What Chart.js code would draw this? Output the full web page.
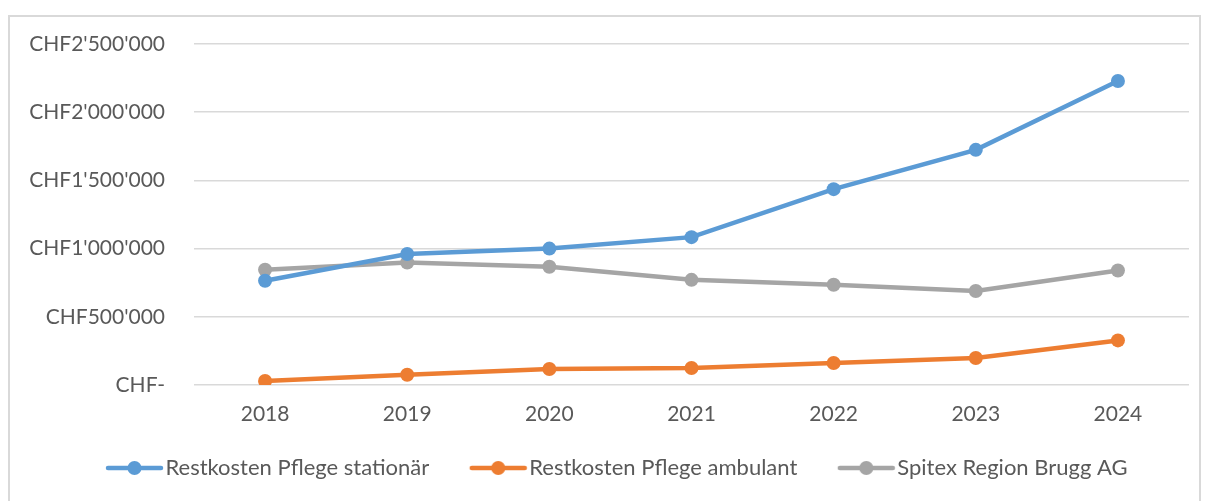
<!DOCTYPE html>
<html>
<head>
<meta charset="utf-8">
<script src="https://cdn.jsdelivr.net/npm/chart.js@4"></script>
<style>
  html, body { margin: 0; padding: 0; background: #fff; }
  #wrap { position: relative; width: 1205px; height: 501px; }
  #frame { position: absolute; left: 8px; top: 15px; width: 1193px; height: 500px; border: 2px solid #d9d9d9; box-sizing: border-box; }
</style>
</head>
<body>
<div id="wrap">
  <div id="frame"></div>
  <canvas id="restkostenChart" width="1205" height="501"></canvas>
</div>
<script>
const years = ["2018", "2019", "2020", "2021", "2022", "2023", "2024"];
const stationaer = [764000, 960000, 1000000, 1084000, 1436000, 1724000, 2229000];
const ambulant = [29000, 75000, 117000, 125000, 161000, 198000, 327000];
const spitex = [845000, 898000, 867000, 771000, 735000, 689000, 839000];
const seriesNames = ["Restkosten Pflege stationär", "Restkosten Pflege ambulant", "Spitex Region Brugg AG"];
const colors = ["#5b9bd5", "#ed7d31", "#a5a5a5"];

const fontFamily = "Lato, 'Open Sans', sans-serif";
const textColor = "#595959";

function chf(v) {
    if (v === 0) return "CHF-";
    return "CHF" + String(v).replace(/\B(?=(\d{3})+(?!\d))/g, "'");
}

// Legendensymbol wie in Excel: Linie mit Punkt (Canvas etwas breiter, damit es links sitzt)
function legendIcon(color) {
    const c = document.createElement("canvas");
    c.width = 76;
    c.height = 16;
    const ctx = c.getContext("2d");
    ctx.strokeStyle = color;
    ctx.lineWidth = 4.5;
    ctx.lineCap = "round";
    ctx.beginPath();
    ctx.moveTo(20, 8);
    ctx.lineTo(73, 8);
    ctx.stroke();
    ctx.fillStyle = color;
    ctx.beginPath();
    ctx.arc(46.5, 8, 7, 0, Math.PI * 2);
    ctx.fill();
    return c;
}

function makeDataset(i, values) {
    return {
        label: seriesNames[i],
        data: values,
        borderColor: colors[i],
        backgroundColor: colors[i],
        borderWidth: 4.5,
        pointRadius: 7,
        pointHoverRadius: 7,
        pointBorderWidth: 0,
        tension: 0,
    };
}

new Chart(document.getElementById('restkostenChart'), {
    type: 'line',
    data: {
        labels: years,
        datasets: [
            makeDataset(0, stationaer),
            makeDataset(1, ambulant),
            makeDataset(2, spitex),
        ]
    },
    options: {
        responsive: false,
        animation: false,
        layout: { padding: { top: 44, right: 0, bottom: 12, left: 20 } },
        scales: {
            x: {
                offset: true,
                grid: { display: false },
                border: { display: false },
                ticks: { color: textColor, font: { family: fontFamily, size: 21 }, padding: 9 },
                afterFit: (axis) => { axis.height = 40; },
            },
            y: {
                min: 0,
                max: 2500000,
                ticks: {
                    stepSize: 500000,
                    color: textColor,
                    font: { family: fontFamily, size: 21 },
                    padding: 29,
                    callback: (v) => chf(v),
                },
                grid: { color: "#d9d9d9", lineWidth: 1.5, drawTicks: false },
                border: { display: false },
                afterFit: (axis) => { axis.width = 174; },
            },
            // leere Achse rechts, nur als Abstand zum Rahmen
            yRight: {
                position: 'right',
                grid: { display: false },
                border: { display: false },
                ticks: { display: false },
                afterFit: (axis) => { axis.width = 16; },
            }
        },
        plugins: {
            tooltip: { enabled: false },
            legend: {
                position: 'bottom',
                labels: {
                    usePointStyle: true,
                    pointStyleWidth: 57,
                    padding: 32,
                    color: textColor,
                    font: { family: fontFamily, size: 22 },
                    generateLabels: (chart) => {
                        const items = Chart.defaults.plugins.legend.labels.generateLabels(chart);
                        items.forEach((it, i) => { it.pointStyle = legendIcon(colors[i]); });
                        return items;
                    }
                }
            }
        }
    }
});
</script>
</body>
</html>
